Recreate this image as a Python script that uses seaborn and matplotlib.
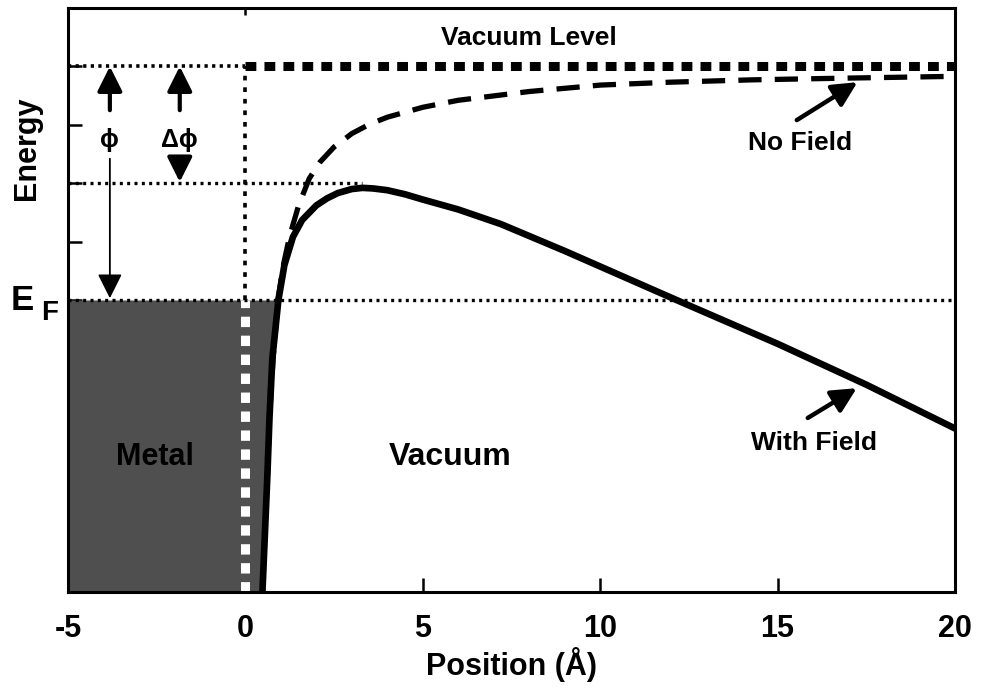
import matplotlib
matplotlib.use("Agg")
import matplotlib.pyplot as plt
import pandas as pd
import seaborn as sns

# ---- data ----
x_field = [0.48, 0.55, 0.62, 0.68, 0.76, 0.93, 1.1, 1.34, 1.6, 2.0, 2.3, 2.6, 3.0,
           3.3, 3.6, 4.0, 4.5, 5.0, 6.0, 7.2, 9.0, 10.5, 12.15, 15.0, 17.5, 20.0]
y_field = [0.0, 1.0, 2.0, 3.0, 4.0, 5.0, 5.6, 6.08, 6.37, 6.62, 6.74, 6.83, 6.90,
           6.92, 6.91, 6.88, 6.81, 6.72, 6.55, 6.30, 5.84, 5.44, 5.0, 4.25, 3.55, 2.80]
x_nofield = [0.48, 0.55, 0.62, 0.68, 0.78, 0.92, 1.06, 1.25, 1.5, 1.8, 2.1, 2.5, 3.0,
             3.5, 4.0, 5.0, 6.0, 8.0, 10.0, 12.0, 14.3, 17.0, 20.0]
y_nofield = [0.0, 1.0, 2.0, 3.0, 4.0, 5.0, 5.57, 6.1, 6.62, 7.08, 7.36, 7.62, 7.85,
             8.01, 8.13, 8.30, 8.42, 8.57, 8.68, 8.73, 8.77, 8.80, 8.83]

vacuum_level = 9.0
barrier_top = 7.0
fermi_level = 5.0
x_min, x_max = -5, 20
y_min, y_max = 0, 10
barrier_line_end = 3.3
x_ticks = [-5, 0, 5, 10, 15, 20]
x_tick_labels = ["-5", "0", "5", "10", "15", "20"]
y_ticks = [1, 2, 3, 4, 5, 6, 7, 8, 9]

phi_x = -3.82
dphi_x = -1.85

df_field = pd.DataFrame({"x": x_field, "y": y_field})
df_nofield = pd.DataFrame({"x": x_nofield, "y": y_nofield})

sns.set_theme(style="ticks")
plt.rcParams["font.family"] = ["Liberation Sans", "DejaVu Sans"]
plt.rcParams["font.weight"] = "bold"
plt.rcParams["text.color"] = "black"
plt.rcParams["axes.labelcolor"] = "black"
plt.rcParams["xtick.color"] = "black"
plt.rcParams["ytick.color"] = "black"

fig = plt.figure(figsize=(9.84, 6.9), dpi=100)
ax = fig.add_axes([68 / 984, 98 / 690, 887 / 984, 584 / 690])

# metal region (filled up to the with-field barrier curve below E_F)
n_metal = 0
for v in y_field:
    if v > fermi_level:
        break
    n_metal += 1
ax.fill_betweenx(y_field[:n_metal], x_min, x_field[:n_metal],
                 color="#4f4f4f", lw=0, zorder=1)

# white dashed surface line inside the metal
ax.plot([0, 0], [y_min, fermi_level], color="white", lw=6.5,
        dashes=(1.15, 0.95), solid_capstyle="butt", dash_capstyle="butt", zorder=2)
# black dotted surface line above E_F
ax.plot([0, 0], [fermi_level, vacuum_level], color="black", lw=2.6,
        dashes=(1.3, 1.9), dash_capstyle="butt", zorder=2)

# horizontal levels
ax.plot([x_min, 0], [vacuum_level, vacuum_level], color="black", lw=2.6,
        dashes=(0.9, 1.2), dash_capstyle="butt", zorder=2)
ax.plot([0, x_max], [vacuum_level, vacuum_level], color="black", lw=6.5,
        dashes=(1.2, 0.9), dash_capstyle="butt", zorder=2)
ax.plot([x_min, barrier_line_end], [barrier_top, barrier_top], color="black", lw=2.4,
        dashes=(0.9, 1.3), dash_capstyle="butt", zorder=2)
ax.plot([x_min, x_max], [fermi_level, fermi_level], color="black", lw=2.4,
        dashes=(0.9, 1.3), dash_capstyle="butt", zorder=2)

# potential curves
sns.lineplot(data=df_nofield, x="x", y="y", ax=ax, color="black", lw=3.8,
             sort=False, estimator=None, zorder=3)
ax.lines[-1].set_dashes((4.4, 2.5))
ax.lines[-1].set_dash_capstyle("butt")
sns.lineplot(data=df_field, x="x", y="y", ax=ax, color="black", lw=4.8,
             sort=False, estimator=None, zorder=4)
ax.lines[-1].set_solid_joinstyle("round")

arrow_kw = dict(arrowstyle="-|>,head_length=1.0,head_width=0.5", color="black",
                mutation_scale=15, shrinkA=0, shrinkB=0)

# phi arrows
ax.annotate("", xy=(phi_x, vacuum_level), xytext=(phi_x, 8.25),
            arrowprops=dict(lw=3, **arrow_kw), zorder=5)
ax.annotate("", xy=(phi_x, fermi_level + 0.03), xytext=(phi_x, 7.42),
            arrowprops=dict(lw=1.3, **arrow_kw), zorder=5)
ax.text(phi_x, 7.74, "ϕ", ha="center", va="center", fontsize=18, fontweight="bold")

# delta phi arrows
ax.annotate("", xy=(dphi_x, vacuum_level), xytext=(dphi_x, 8.25),
            arrowprops=dict(lw=3, **arrow_kw), zorder=5)
ax.annotate("", xy=(dphi_x, barrier_top + 0.02), xytext=(dphi_x, 7.4),
            arrowprops=dict(lw=3, **arrow_kw), zorder=5)
ax.text(dphi_x, 7.74, "Δϕ", ha="center", va="center", fontsize=18, fontweight="bold")

# curve label arrows
ax.annotate("", xy=(17.25, 8.73), xytext=(15.54, 8.08),
            arrowprops=dict(lw=3.2, **arrow_kw), zorder=5)
ax.annotate("", xy=(17.23, 3.49), xytext=(15.85, 2.98),
            arrowprops=dict(lw=3.2, **arrow_kw), zorder=5)

# labels inside the plot
ax.text(8.0, 9.49, "Vacuum Level", ha="center", va="center", fontsize=19, fontweight="bold")
ax.text(15.62, 7.69, "No Field", ha="center", va="center", fontsize=19, fontweight="bold")
ax.text(16.04, 2.55, "With Field", ha="center", va="center", fontsize=19, fontweight="bold")
ax.text(5.76, 2.31, "Vacuum", ha="center", va="center", fontsize=23, fontweight="bold")
ax.text(-2.55, 2.31, "Metal", ha="center", va="center", fontsize=22, fontweight="bold",
        color="black")

# E_F label and Energy label outside the axes (axes-x, data-y)
tr = ax.get_yaxis_transform()
ax.text(-46 / 887, fermi_level, "E", transform=tr, ha="center", va="center",
        fontsize=25, fontweight="bold", clip_on=False)
ax.text(-18 / 887, fermi_level - 0.22, "F", transform=tr, ha="center", va="center",
        fontsize=20, fontweight="bold", clip_on=False)
ax.text(-41 / 887, 7.6, "Energy", transform=tr, ha="center", va="center",
        rotation=90, fontsize=22, fontweight="bold", clip_on=False)

# axes
ax.set_xlim(x_min, x_max)
ax.set_ylim(y_min, y_max)
ax.set_xticks(x_ticks)
ax.set_xticklabels(x_tick_labels, fontsize=22, fontweight="bold")
ax.set_yticks(y_ticks)
ax.set_yticklabels([])
ax.set_xlabel("Position (Å)", fontsize=22, fontweight="bold", labelpad=2)
ax.set_ylabel("")
ax.tick_params(axis="both", direction="in", length=10, width=1.8, color="black")
ax.tick_params(axis="x", pad=16)
for s in ax.spines.values():
    s.set_linewidth(2.2)
    s.set_color("black")
    s.set_visible(True)

sec = ax.secondary_xaxis("top")
sec.set_xticks([0])
sec.set_xticklabels([])
sec.tick_params(direction="in", length=5, width=1.8)
sec.spines["top"].set_visible(False)

fig.savefig("out.png", dpi=100, facecolor="white")
